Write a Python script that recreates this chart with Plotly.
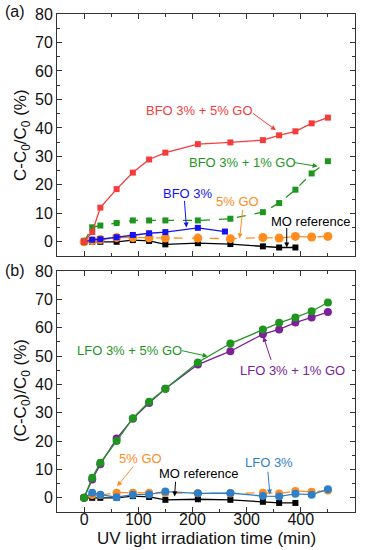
import plotly.graph_objects as go

# ---- data ----
t_std = [0, 15, 30, 60, 90, 120, 150, 210, 270, 330, 360, 390, 420, 450]

# panel (a)
bfo_5go = [0, 3.4, 12.0, 18.5, 24.3, 28.9, 31.3, 34.3, 34.9, 35.7, 37.4, 38.8, 41.6, 43.6]
bfo_1go = [0, 5.1, 5.7, 6.6, 7.5, 7.5, 7.5, 7.5, 8.1, 10.4, 13.6, 18.3, 24.0, 28.3]
t_bfo = [0, 15, 30, 60, 90, 120, 150, 210, 260]
bfo_3 = [0, 0.7, 0.9, 1.6, 2.4, 3.0, 3.4, 4.9, 3.6]
go5_a = [0, 0.4, 0.8, 1.5, 1.5, 1.4, 1.3, 1.3, 1.1, 1.5, 1.3, 1.9, 1.7, 1.9]
t_mo = [0, 15, 30, 60, 90, 120, 150, 210, 270, 330, 360, 390]
mo_a = [0, 0, 0, 0, 0.6, 0.3, -0.9, -0.5, -0.8, -1.6, -2.0, -2.0]

# panel (b)
lfo_5go = [0, 7.1, 12.4, 20.0, 28.1, 33.9, 38.5, 47.7, 54.4, 59.4, 61.7, 63.6, 65.8, 68.9]
lfo_1go = [0, 6.5, 11.8, 20.9, 27.9, 33.4, 38.5, 47.0, 51.7, 57.7, 59.4, 61.8, 63.6, 65.5]
lfo_3 = [0, 1.8, 1.1, 0.2, 1.1, 1.2, 2.2, 1.6, 1.7, 0.6, 0.5, 1.4, 1.1, 3.0]
go5_b = [0, 1.0, 1.0, 1.8, 1.8, 1.8, 1.7, 1.6, 1.5, 1.8, 1.5, 2.4, 2.1, 2.6]
mo_b = [0, 0, 0, 0, 0.6, 0.3, -0.7, -0.5, -0.7, -1.4, -1.8, -1.8]

x_ticks = [0, 100, 200, 300, 400, 500]
y_ticks = [0, 10, 20, 30, 40, 50, 60, 70, 80]

RED = "#f43c3c"
GREEN = "#1e961e"
BLUE = "#1414f0"
ORANGE = "#ff8c1e"
BLACK = "#000000"
PURPLE = "#7a2296"
SKY = "#2f7fc8"

fig = go.Figure()

def add(x, y, color, symbol, size, dash, xa, ya):
    fig.add_trace(go.Scatter(
        x=x, y=y, mode="lines+markers",
        line=dict(color=color, width=1.3, dash=dash),
        marker=dict(color=color, symbol=symbol, size=size, line=dict(width=0)),
        xaxis=xa, yaxis=ya, showlegend=False, cliponaxis=False))

# panel a
add(t_mo, mo_a, BLACK, "square", 6, "solid", "x", "y")
add(t_std, go5_a, ORANGE, "circle", 9, "dash", "x", "y")
add(t_bfo, bfo_3, BLUE, "square", 6, "solid", "x", "y")
add(t_std, bfo_1go, GREEN, "square", 6, "dash", "x", "y")
add(t_std, bfo_5go, RED, "square", 6, "solid", "x", "y")

# panel b
add(t_mo, mo_b, BLACK, "square", 6, "solid", "x2", "y2")
add(t_std, go5_b, ORANGE, "circle", 8, "dash", "x2", "y2")
add(t_std, lfo_3, SKY, "circle", 8, "solid", "x2", "y2")
add(t_std, lfo_1go, PURPLE, "circle", 8, "solid", "x2", "y2")
add(t_std, lfo_5go, GREEN, "circle", 8, "solid", "x2", "y2")

FONT = "Liberation Sans, Arial, sans-serif"

axis_common = dict(
    showline=True, linecolor="#333", linewidth=1, mirror="allticks",
    ticks="inside", ticklen=5, tickcolor="#333", zeroline=False, showgrid=False,
    automargin=False,
    tickfont=dict(size=16, color="#111", family=FONT),
)

L, R, T, B = 57, 13, 14, 38
W = 368 - L - R
H = 550 - T - B

def px(xp):
    return (xp - L) / W

def py(yp):
    return (550 - B - yp) / H

fig.update_layout(
    width=368, height=550,
    margin=dict(l=L, r=R, t=T, b=B, autoexpand=False),
    plot_bgcolor="white", paper_bgcolor="white",
    font=dict(family=FONT, color="#111"),
    xaxis=dict(domain=[0, 1], anchor="y", range=[-50, 500], tickvals=x_ticks,
               showticklabels=False, minor=dict(ticks="inside", ticklen=3, dtick=50, tick0=0, tickcolor="#333"),
               **axis_common),
    yaxis=dict(domain=[0.514, 1], anchor="x", range=[-5, 80], tickvals=y_ticks,
               minor=dict(ticks="inside", ticklen=3, dtick=5, tick0=0, tickcolor="#333"),
               **axis_common),
    xaxis2=dict(domain=[0, 1], anchor="y2", range=[-50, 500], tickvals=x_ticks,
                ticklabelstandoff=-7,
                minor=dict(ticks="inside", ticklen=3, dtick=50, tick0=0, tickcolor="#333"),
                **axis_common),
    yaxis2=dict(domain=[0, 0.484], anchor="x2", range=[-5, 80], tickvals=y_ticks,
                minor=dict(ticks="inside", ticklen=3, dtick=5, tick0=0, tickcolor="#333"),
                **axis_common),
)

def label(text, x, y, color, xr, yr):
    fig.add_annotation(text=text, x=x, y=y, xref=xr, yref=yr, showarrow=False,
                       font=dict(size=13, color=color, family=FONT))

def arrow(x, y, ax, ay, color, xr, yr):
    fig.add_annotation(text="", x=x, y=y, ax=ax, ay=ay, xref=xr, yref=yr,
                       axref=xr, ayref=yr, showarrow=True, arrowhead=2,
                       arrowsize=1, arrowwidth=1, arrowcolor=color)

# panel a labels
label("BFO 3% + 5% GO", 213, 46.2, RED, "x", "y")
arrow(354, 39.2, 309, 45.5, RED, "x", "y")
label("BFO 3% + 1% GO", 293, 27.9, GREEN, "x", "y")
arrow(431, 26.5, 385, 27.9, GREEN, "x", "y")
label("BFO 3%", 191, 17.0, BLUE, "x", "y")
arrow(189, 5.0, 185, 14.9, BLUE, "x", "y")
label("5% GO", 283, 14.0, ORANGE, "x", "y")
arrow(287, 1.2, 293, 11.7, ORANGE, "x", "y")
label("MO reference", 417, 7.1, BLACK, "x", "y")
arrow(374, -2.0, 374, 5.4, BLACK, "x", "y")

# panel b labels
label("LFO 3% + 5% GO", 83, 52.0, GREEN, "x2", "y2")
arrow(228, 49.9, 178, 52.0, GREEN, "x2", "y2")
label("LFO 3% + 1% GO", 384, 45.0, PURPLE, "x2", "y2")
arrow(331, 56.8, 346, 48.1, PURPLE, "x2", "y2")
label("5% GO", 105, 13.9, ORANGE, "x2", "y2")
arrow(61, 4.1, 93, 11.5, ORANGE, "x2", "y2")
label("MO reference", 211, 8.6, BLACK, "x2", "y2")
arrow(167, 0.5, 169, 6.2, BLACK, "x2", "y2")
label("LFO 3%", 341, 12.5, SKY, "x2", "y2")
arrow(343, 1.2, 339, 9.7, SKY, "x2", "y2")

# axis titles as annotations (pixel-placed)
fig.add_annotation(text="UV light irradiation time (min)", x=px(206), y=py(538),
                   xref="paper", yref="paper", showarrow=False, xanchor="center", yanchor="middle",
                   font=dict(size=17, family=FONT, color="#111"))
fig.add_annotation(text="C-C<sub>0</sub>/C<sub>0</sub> (%)", x=px(22), y=py(135),
                   xref="paper", yref="paper", showarrow=False, textangle=-90,
                   xanchor="center", yanchor="middle",
                   font=dict(size=17, family=FONT, color="#111"))
fig.add_annotation(text="(C-C<sub>0</sub>)/C<sub>0</sub> (%)", x=px(22), y=py(391),
                   xref="paper", yref="paper", showarrow=False, textangle=-90,
                   xanchor="center", yanchor="middle",
                   font=dict(size=17, family=FONT, color="#111"))

# panel tags
fig.add_annotation(text="(a)", x=px(3), y=py(12), xref="paper", yref="paper", showarrow=False,
                   xanchor="left", yanchor="middle", font=dict(size=16, family=FONT, color="#111"))
fig.add_annotation(text="(b)", x=px(3), y=py(270), xref="paper", yref="paper", showarrow=False,
                   xanchor="left", yanchor="middle", font=dict(size=16, family=FONT, color="#111"))

fig.write_html("out.html", config={"displayModeBar": False},
               post_script="document.body.style.margin='0';document.body.style.padding='0';")
